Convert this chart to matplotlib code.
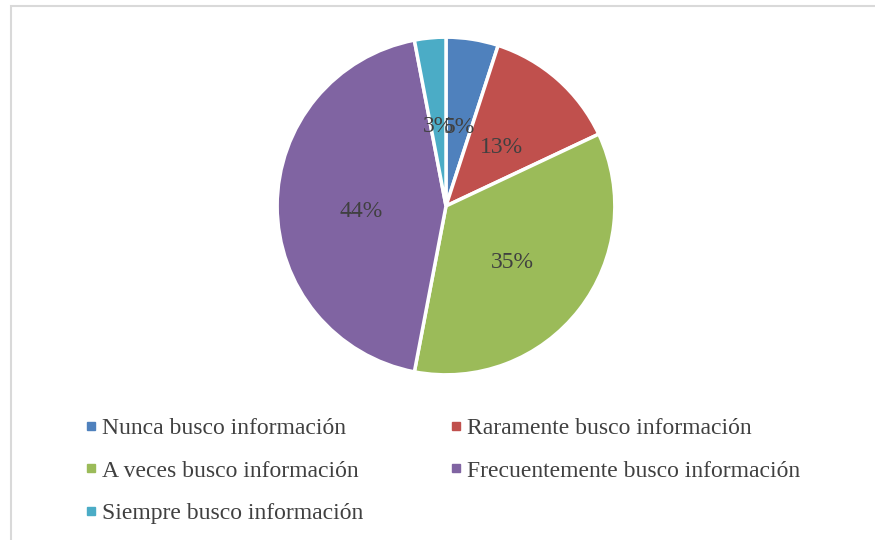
import matplotlib.pyplot as plt
from matplotlib.patches import Rectangle
from matplotlib.lines import Line2D
from matplotlib.transforms import ScaledTranslation

labels = ['Nunca busco información', 'Raramente busco información',
          'A veces busco información', 'Frecuentemente busco información',
          'Siempre busco información']
values = [5, 13, 35, 44, 3]
colors = ['#4F81BD', '#C0504D', '#9BBB59', '#8064A2', '#4BACC6']

plt.rcParams['font.family'] = ['Liberation Serif', 'DejaVu Serif']

fig = plt.figure(figsize=(8.75, 5.4), dpi=100)
W, H = 875, 540

# chart frame
fig.patches.append(Rectangle((11 / W, -0.1), 1.2, (540 - 6) / H + 0.1,
                             transform=fig.transFigure, fill=False,
                             edgecolor='#d9d9d9', linewidth=1.5))

ax = fig.add_axes([278 / W, (540 - 374) / H, 336 / W, 336 / H])
wedges, texts, autotexts = ax.pie(
    values, colors=colors, startangle=90, counterclock=False,
    autopct='%1.0f%%', pctdistance=0.5,
    wedgeprops=dict(edgecolor='white', linewidth=2.5),
    textprops=dict(color='#404040', fontsize=17))
ax.set_xlim(-0.995, 0.995)
ax.set_ylim(-0.995, 0.995)
ax.set_aspect('equal')

# labels sit a little lower in the original
shift = ScaledTranslation(0, -0.05, fig.dpi_scale_trans)
for t in autotexts:
    t.set_transform(t.get_transform() + shift)

handles = [Line2D([], [], marker='s', linestyle='none', markersize=5.5,
                  markerfacecolor=c, markeredgecolor=c) for c in colors]
order = [0, 2, 4, 1, 3]
fig.legend([handles[i] for i in order], [labels[i] for i in order],
           ncol=2, loc='upper left', bbox_to_anchor=(64 / W, 1 - 396 / H),
           frameon=False, fontsize=17, labelcolor='#404040',
           handlelength=0.45, handletextpad=0.25, columnspacing=3.7,
           labelspacing=0.9)

fig.savefig('out.png', dpi=100)
